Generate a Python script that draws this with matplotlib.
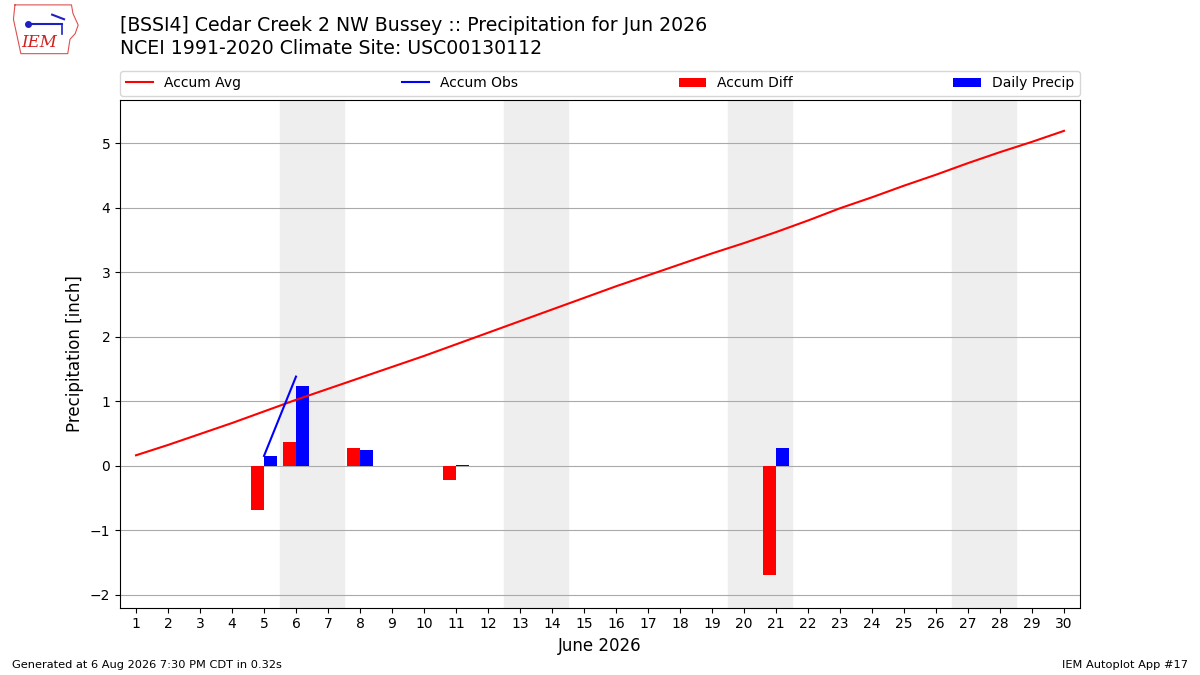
import numpy as np
import matplotlib
matplotlib.use("Agg")
import matplotlib.pyplot as plt

# Datos
dias = list(range(1, 31))
acum_promedio = [0.16, 0.32, 0.49, 0.66, 0.84, 1.02, 1.19, 1.36, 1.53, 1.70,
                 1.88, 2.06, 2.24, 2.42, 2.60, 2.78, 2.95, 3.12, 3.29, 3.45,
                 3.62, 3.80, 3.99, 4.16, 4.34, 4.51, 4.69, 4.86, 5.02, 5.19]
nan = np.nan
acum_obs = [nan, nan, nan, nan, 0.15, 1.38, nan, 1.62, nan, nan,
            1.63, nan, nan, nan, nan, nan, nan, nan, nan, nan,
            1.91, nan, nan, nan, nan, nan, nan, nan, nan, nan]
dias_lluvia = [5, 6, 8, 11, 21]
precip_diaria = [0.15, 1.23, 0.24, 0.01, 0.28]
acum_dif = [-0.69, 0.36, 0.28, -0.23, -1.70]
fines_semana = [(5.5, 7.5), (12.5, 14.5), (19.5, 21.5), (26.5, 28.5)]

fig = plt.figure(figsize=(12, 6.75), dpi=100)
ax = fig.add_axes([0.1, 0.1, 0.8, 0.752])

# Sombrear fines de semana
for ini, fin in fines_semana:
    ax.axvspan(ini, fin, color='#eeeeee', zorder=0)

ax.plot(dias, acum_promedio, color='r', label='Accum Avg', zorder=3)
ax.plot(dias, acum_obs, color='b', label='Accum Obs', zorder=3)
ax.bar(np.array(dias_lluvia) - 0.2, acum_dif, width=0.4, color='r',
       label='Accum Diff', zorder=2)
ax.bar(np.array(dias_lluvia) + 0.2, precip_diaria, width=0.4, color='b',
       label='Daily Precip', zorder=2)

ax.set_xlim(0.5, 30.5)
ax.set_ylim(-2.2, 5.67)
ax.set_xticks(dias)
ax.grid(axis='y', color='#aaaaaa', zorder=1)
ax.set_axisbelow(True)
ax.set_ylabel('Precipitation [inch]', fontsize=12)
ax.set_xlabel('June 2026', fontsize=12)
ax.tick_params(labelsize=10)

ax.legend(loc='lower left', bbox_to_anchor=(0, 1.008, 1, 0.102), ncol=4,
          mode='expand', borderaxespad=0, fontsize=10)

fig.text(0.1, 0.962, '[BSSI4] Cedar Creek 2 NW Bussey :: Precipitation for Jun 2026',
         fontsize=13.6, va='center')
fig.text(0.1, 0.928, 'NCEI 1991-2020 Climate Site: USC00130112',
         fontsize=13.6, va='center')
fig.text(0.01, 0.01, 'Generated at 6 Aug 2026 7:30 PM CDT in 0.32s', fontsize=8.2)
fig.text(0.99, 0.01, 'IEM Autoplot App #17', fontsize=8.2, ha='right')

# Logo IEM simplificado
logo = fig.add_axes([0.005, 0.912, 0.062, 0.085])
contorno_x = [0.12, 0.88, 0.9, 0.97, 0.93, 0.86, 0.83, 0.2, 0.15, 0.1, 0.12]
contorno_y = [0.95, 0.95, 0.8, 0.6, 0.45, 0.35, 0.1, 0.1, 0.4, 0.7, 0.95]
logo.plot(contorno_x, contorno_y, color='#e05050', lw=0.8)
logo.plot([0.3, 0.75], [0.62, 0.62], color='#2020c0', lw=1.5)
logo.plot([0.3], [0.62], 'o', color='#2020c0', ms=4)
logo.plot([0.62, 0.78], [0.78, 0.7], color='#2020c0', lw=1.5)
logo.plot([0.75, 0.75], [0.62, 0.45], color='#2020c0', lw=1.2)
logo.text(0.45, 0.3, 'IEM', color='#d02020', fontsize=12, fontstyle='italic',
          family='DejaVu Serif', ha='center', va='center')
logo.set_xlim(0, 1)
logo.set_ylim(0, 1)
logo.axis('off')

fig.savefig('out.png', dpi=100)
